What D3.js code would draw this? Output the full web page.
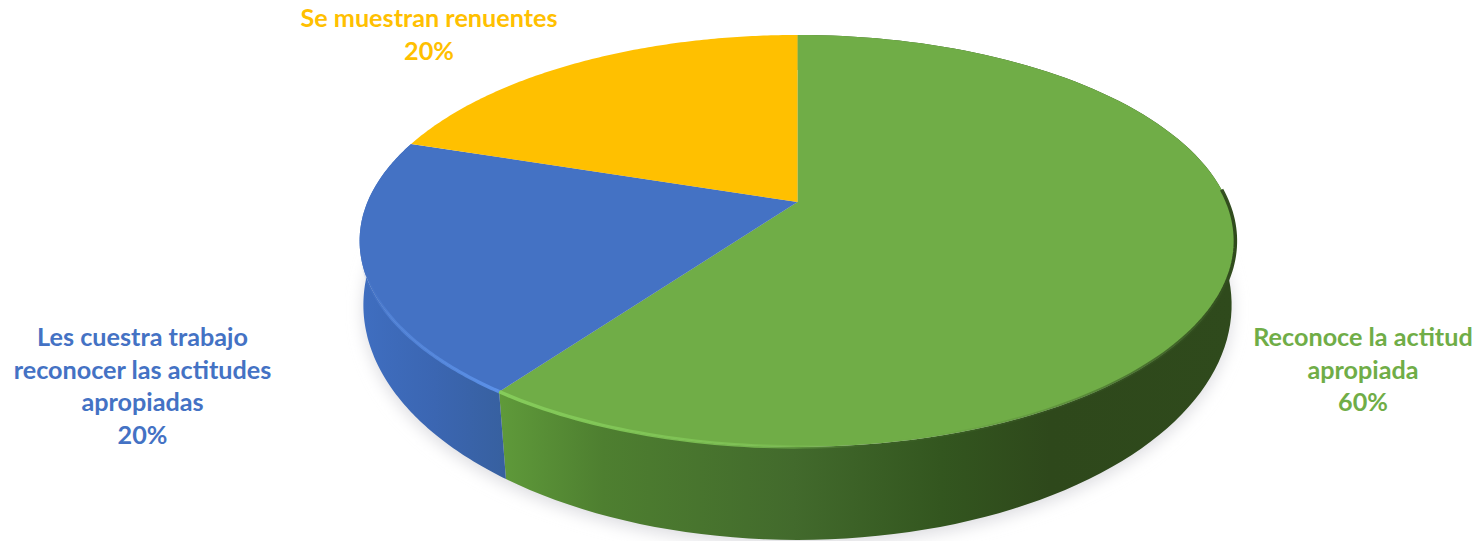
<!DOCTYPE html>
<html lang="es">
<head>
<meta charset="utf-8">
<title>Reconocimiento de actitudes</title>
<script src="https://cdn.jsdelivr.net/npm/d3@7/dist/d3.min.js"></script>
<style>
html,body{margin:0;padding:0;background:#fff;overflow:hidden}
svg{display:block}
text{font-family:Lato,"Open Sans",sans-serif;font-weight:700;text-anchor:middle}
</style>
</head>
<body>
<svg id="chart" width="1477" height="541"></svg>
<script>
const categories = ["Reconoce la actitud apropiada", "Les cuestra trabajo reconocer las actitudes apropiadas", "Se muestran renuentes"];
const values = [60, 20, 20];
const colors = ["#70AD47", "#4472C4", "#FFC000"];
const labelLines = [
  ["Reconoce la actitud", "apropiada", "60%"],
  ["Les cuestra trabajo", "reconocer las actitudes", "apropiadas", "20%"],
  ["Se muestran renuentes", "20%"]
];

const W = 1477, H = 541;
const svg = d3.select("#chart").attr("viewBox", [0, 0, W, H]);
const defs = svg.append("defs");

// Perspective view of the disc: unit circle -> screen
const CX = 797.5;
const topPlane = {bx: 430, ay: 198.6, y0: 202, p: 0.189};
const botPlane = {bx: 427.8, ay: 228.2, y0: 265, p: 0.17};
const project = (plane, a) => {
  const x = Math.sin(a), y = -Math.cos(a), w = 1 - plane.p * y;
  return [CX + plane.bx * x / w, plane.y0 + plane.ay * y / w];
};
const rim = (plane, a0, a1) => d3.range(0, 121).map(i => project(plane, a0 + (a1 - a0) * i / 120));
const line = d3.line();
const closed = pts => line(pts) + "Z";

const arcs = d3.pie().sort(null).value(d => d)(values);

// Gradients
const grad = (id, x1, x2, stops) => {
  const g = defs.append("linearGradient").attr("id", id)
    .attr("gradientUnits", "userSpaceOnUse")
    .attr("x1", x1).attr("x2", x2).attr("y1", 0).attr("y2", 0);
  stops.forEach(s => g.append("stop").attr("offset", s[0]).attr("stop-color", s[1]).attr("stop-opacity", s[2] === undefined ? 1 : s[2]));
};
grad("side0", 500, 1235, [[0, "#5f9a3a"], [0.14, "#4e7f30"], [0.4, "#426a2c"], [0.6, "#33561f"], [0.75, "#2e481b"], [1, "#2f4a1c"]]);
grad("side1", 362, 506, [[0, "#3f6ec0"], [0.5, "#3b66b2"], [1, "#37609f"]]);
grad("rim0", 500, 1235, [[0, "#85cc5a", 1], [0.35, "#7fc455", 0.8], [0.5, "#70ad47", 0], [0.75, "#3c5f26", 0.3], [1, "#2f4a1c", 1]]);
grad("rim1", 360, 505, [[0, "#4472c4", 0], [0.2, "#5587dc", 0.7], [1, "#5c92ea", 1]]);

// Soft shadow
const shadow = defs.append("filter").attr("id", "soft")
  .attr("x", "-10%").attr("y", "-10%").attr("width", "120%").attr("height", "130%");
shadow.append("feGaussianBlur").attr("stdDeviation", 8);

svg.append("path")
  .attr("d", closed(rim(botPlane, 0, 2 * Math.PI)))
  .attr("transform", "translate(0,5)")
  .attr("fill", "#dcdce0")
  .attr("filter", "url(#soft)");

// Side walls
const sides = svg.append("g");
arcs.slice(0, 2).forEach((d, i) => {
  const pts = rim(topPlane, d.startAngle, d.endAngle).concat(rim(botPlane, d.startAngle, d.endAngle).reverse());
  sides.append("path").attr("d", closed(pts)).attr("fill", `url(#side${i})`);
});

// Top faces
const faces = svg.append("g");
arcs.forEach((d, i) => {
  const pts = [[CX, topPlane.y0]].concat(rim(topPlane, d.startAngle, d.endAngle));
  faces.append("path").attr("d", closed(pts)).attr("fill", colors[i]);
});

// Rim highlights, front edge only
const rimSpan = [[0.40, 1], [0, 0.7]];
const rims = svg.append("g").attr("fill", "none").attr("stroke-width", 3.5).attr("stroke-linecap", "butt");
arcs.slice(0, 2).forEach((d, i) => {
  const span = d.endAngle - d.startAngle;
  rims.append("path")
    .attr("d", line(rim(topPlane, d.startAngle + span * rimSpan[i][0], d.startAngle + span * rimSpan[i][1])))
    .attr("stroke", `url(#rim${i})`);
});

// Labels
const labelAnchors = [[1363, 346], [142.5, 346], [429, 27]];
const LH = 32.7;
labelLines.forEach((lines, i) => {
  const t = svg.append("text")
    .attr("x", labelAnchors[i][0]).attr("y", labelAnchors[i][1])
    .attr("font-size", 25.2).attr("fill", colors[i]);
  lines.forEach((s, j) => t.append("tspan").attr("x", labelAnchors[i][0]).attr("y", labelAnchors[i][1] + j * LH).text(s));
});
</script>
</body>
</html>
